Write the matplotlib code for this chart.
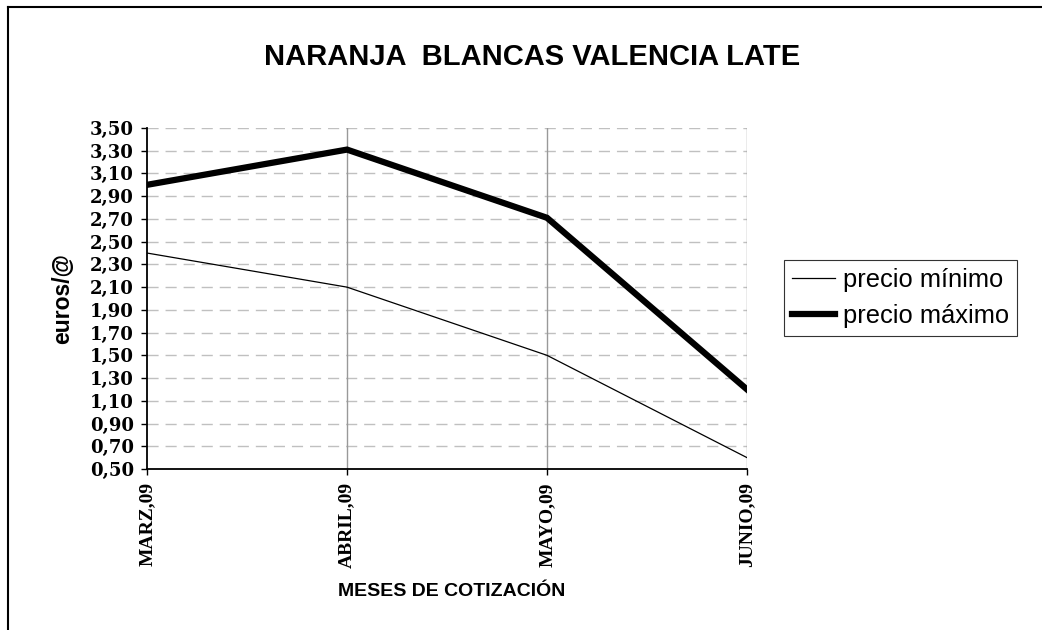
import numpy as np
import matplotlib.pyplot as plt
from matplotlib.lines import Line2D

meses = ['MARZ,09', 'ABRIL,09', 'MAYO,09', 'JUNIO,09']
precio_min = [2.40, 2.10, 1.50, 0.60]
precio_max = [3.00, 3.31, 2.71, 1.20]
yticks = np.round(np.arange(0.50, 3.51, 0.20), 2)

W, H = 1042, 630
fig = plt.figure(figsize=(W / 100, H / 100), dpi=100)
ax = fig.add_axes([147 / W, 1 - 469 / H, 600 / W, 341 / H])

x = np.arange(len(meses))
ax.plot(x, precio_min, color='black', lw=0.9, label='precio mínimo', solid_joinstyle='miter')
ax.plot(x, precio_max, color='black', lw=4.5, label='precio máximo', solid_joinstyle='miter')

ax.set_xlim(0, len(meses) - 1)
ax.set_ylim(0.50, 3.50)
ax.set_yticks(yticks)
ax.set_yticklabels([f'{v:.2f}'.replace('.', ',') for v in yticks],
                   family='DejaVu Serif', fontweight='bold', fontsize=13)
ax.set_xticks(x)
ax.set_xticklabels(meses, rotation=90, family='Liberation Serif', fontweight='bold', fontsize=14)

for y in yticks[1:]:
    ax.axhline(y, color='#c0c0c0', lw=1, dashes=(8, 5), zorder=0)
for xi in x[1:]:
    ax.axvline(xi, color='#999999', lw=1, zorder=0)

for s in ['top', 'right']:
    ax.spines[s].set_visible(False)
ax.spines['left'].set_linewidth(1.3)
ax.spines['bottom'].set_linewidth(1.3)
ax.tick_params(direction='out', length=4.5, width=1, pad=5)

fig.text(532 / W, 1 - 57 / H, 'NARANJA  BLANCAS VALENCIA LATE', ha='center', va='center',
         fontsize=21, fontweight='bold', family='Liberation Sans')
fig.text(63 / W, 1 - 298 / H, 'euros/@', rotation=90, ha='center', va='center',
         fontsize=16.5, fontweight='bold', family='Liberation Sans')
fig.text(452 / W, 1 - 591 / H, 'MESES DE COTIZACIÓN', ha='center', va='center',
         fontsize=14, fontweight='bold', family='Liberation Sans')

handles = [Line2D([], [], color='black', lw=0.9), Line2D([], [], color='black', lw=4.5)]
leg = fig.legend(handles, ['precio mínimo', 'precio máximo'], loc='center left',
                 bbox_to_anchor=(784 / W, 1 - 298 / H), fancybox=False, framealpha=1,
                 edgecolor='#333333', prop={'family': 'Liberation Sans', 'size': 18.4},
                 handlelength=1.7, handletextpad=0.3, borderpad=0.3, labelspacing=0.5,
                 borderaxespad=0)
leg.get_frame().set_linewidth(0.8)

# marco exterior (solo se ven lados superior e izquierdo)
fig.add_artist(Line2D([8 / W, 1], [1 - 7 / H, 1 - 7 / H], color='black', lw=1.5, transform=fig.transFigure))
fig.add_artist(Line2D([8 / W, 8 / W], [0, 1 - 7 / H], color='black', lw=1.5, transform=fig.transFigure))

fig.savefig('out.png', dpi=100)
